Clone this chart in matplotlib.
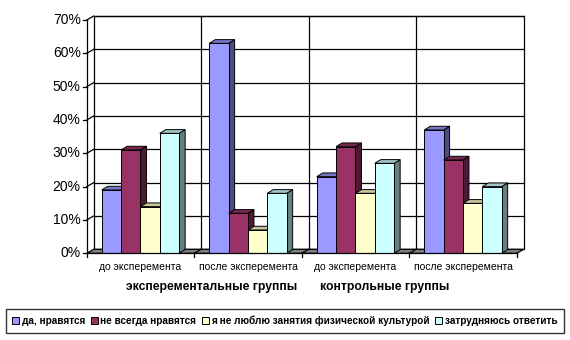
import matplotlib
matplotlib.use("Agg")
import matplotlib.pyplot as plt
from matplotlib.patches import Polygon, Patch
import numpy as np

categories = ["до эксперемента", "после эксперемента", "до эксперемента", "после эксперемента"]
groups = ["эксперементальные группы", "контрольные группы"]
series = ["да, нравятся", "не всегда нравятся", "я не люблю занятия физической культурой", "затрудняюсь ответить"]
da = [19, 63, 23, 37]
ne_vsegda = [31, 12, 32, 28]
ne_lyublyu = [14, 7, 18, 15]
zatrud = [36, 18, 27, 20]
yticks = [0, 10, 20, 30, 40, 50, 60, 70]
ylabels = ["0%", "10%", "20%", "30%", "40%", "50%", "60%", "70%"]

values = [da, ne_vsegda, ne_lyublyu, zatrud]
colors = ["#9999FF", "#993366", "#FFFFCC", "#CCFFFF"]

plt.rcParams['font.family'] = ['Liberation Sans', 'DejaVu Sans']

W, H = 570, 340
fig = plt.figure(figsize=(W / 100, H / 100), dpi=100)
x0, x1 = 86.7, 516.7
ybot, ytop = 253.3, 20.0
ax = fig.add_axes([x0 / W, (H - ybot) / H, (x1 - x0) / W, (ybot - ytop) / H])
ax.set_xlim(-0.5, 3.5)
ax.set_ylim(0, 70)
ax.axis("off")

pxx = 4.0 / (x1 - x0)
pxy = 70.0 / (ybot - ytop)
wdx, wdy = 7 * pxx, 4 * pxy
bdx, bdy = 6 * pxx, 3.7 * pxy

def shade(c, f):
    c = np.array(matplotlib.colors.to_rgb(c))
    return tuple(c * f)

lw = 0.9
# back wall
ax.add_patch(Polygon([(-0.5 + wdx, wdy), (3.5 + wdx, wdy), (3.5 + wdx, 70 + wdy), (-0.5 + wdx, 70 + wdy)],
                     closed=True, facecolor="white", edgecolor="black", lw=lw, clip_on=False, zorder=1))
for t in yticks[1:]:
    ax.plot([-0.5 + wdx, 3.5 + wdx], [t + wdy, t + wdy], color="black", lw=lw, clip_on=False, zorder=1.1)
    ax.plot([-0.5, -0.5 + wdx], [t, t + wdy], color="black", lw=lw, clip_on=False, zorder=1.1)
for b in [0.5, 1.5, 2.5]:
    ax.plot([b + wdx, b + wdx], [wdy, 70 + wdy], color="black", lw=lw, clip_on=False, zorder=1.1)
# floor
ax.add_patch(Polygon([(-0.5, 0), (3.5, 0), (3.5 + wdx, wdy), (-0.5 + wdx, wdy)], closed=True,
                     facecolor="#808080", edgecolor="black", lw=lw, clip_on=False, zorder=1.2))
for b in [0.5, 1.5, 2.5]:
    ax.plot([b, b + wdx], [0, wdy], color="black", lw=lw, clip_on=False, zorder=1.3)

# bars
bw = 0.18
x = np.arange(len(categories))
z = 2
for gi in range(len(categories)):
    for si in range(len(series)):
        v = values[si][gi]
        xl = x[gi] + (si - 1.5) * bw - bw / 2
        xr = xl + bw
        side = Polygon([(xr, 0), (xr + bdx, bdy), (xr + bdx, v + bdy), (xr, v)], closed=True,
                       facecolor=shade(colors[si], 0.5), edgecolor="black", lw=0.7, zorder=z, clip_on=False)
        top = Polygon([(xl, v), (xr, v), (xr + bdx, v + bdy), (xl + bdx, v + bdy)], closed=True,
                      facecolor=shade(colors[si], 0.78), edgecolor="black", lw=0.7, zorder=z, clip_on=False)
        ax.add_patch(side)
        ax.add_patch(top)
        ax.bar(x[gi] + (si - 1.5) * bw, v, width=bw, color=colors[si], edgecolor="black", lw=0.7,
               zorder=z + 0.5, clip_on=False)
        z += 1

# front axes
ax.plot([-0.5, -0.5], [0, 70], color="black", lw=lw, clip_on=False, zorder=50)
ax.plot([-0.5, 3.5], [0, 0], color="black", lw=lw, clip_on=False, zorder=50)
for t, lab in zip(yticks, ylabels):
    ax.plot([-0.5 - 4 * pxx, -0.5], [t, t], color="black", lw=lw, clip_on=False, zorder=50)
    ax.text(-0.5 - 6 * pxx, t, lab, ha="right", va="center", fontsize=10, clip_on=False)
for b in [-0.5, 0.5, 1.5, 2.5, 3.5]:
    ax.plot([b, b], [0, -4 * pxy], color="black", lw=lw, clip_on=False, zorder=50)
for gi, c in enumerate(categories):
    ax.text(x[gi], -14 * pxy, c, ha="center", va="center", fontsize=7.5, clip_on=False)

fig.text(212 / W, 1 - 287 / H, groups[0], ha="center", va="center", fontsize=8.7, fontweight="bold")
fig.text(385 / W, 1 - 287 / H, groups[1], ha="center", va="center", fontsize=8.7, fontweight="bold")

handles = [Patch(facecolor=c, edgecolor="black", lw=0.7) for c in colors]
leg = fig.legend(handles, series, loc="center", bbox_to_anchor=(285 / W, 1 - 321 / H), ncol=4,
                 prop={"weight": "bold", "size": 7.2}, frameon=True, fancybox=False,
                 handlelength=0.7, handleheight=0.7, handletextpad=0.25, columnspacing=0.55,
                 borderpad=0.65, borderaxespad=0)
leg.get_frame().set_edgecolor("black")
leg.get_frame().set_linewidth(1.0)

fig.savefig("out.png", dpi=100)
